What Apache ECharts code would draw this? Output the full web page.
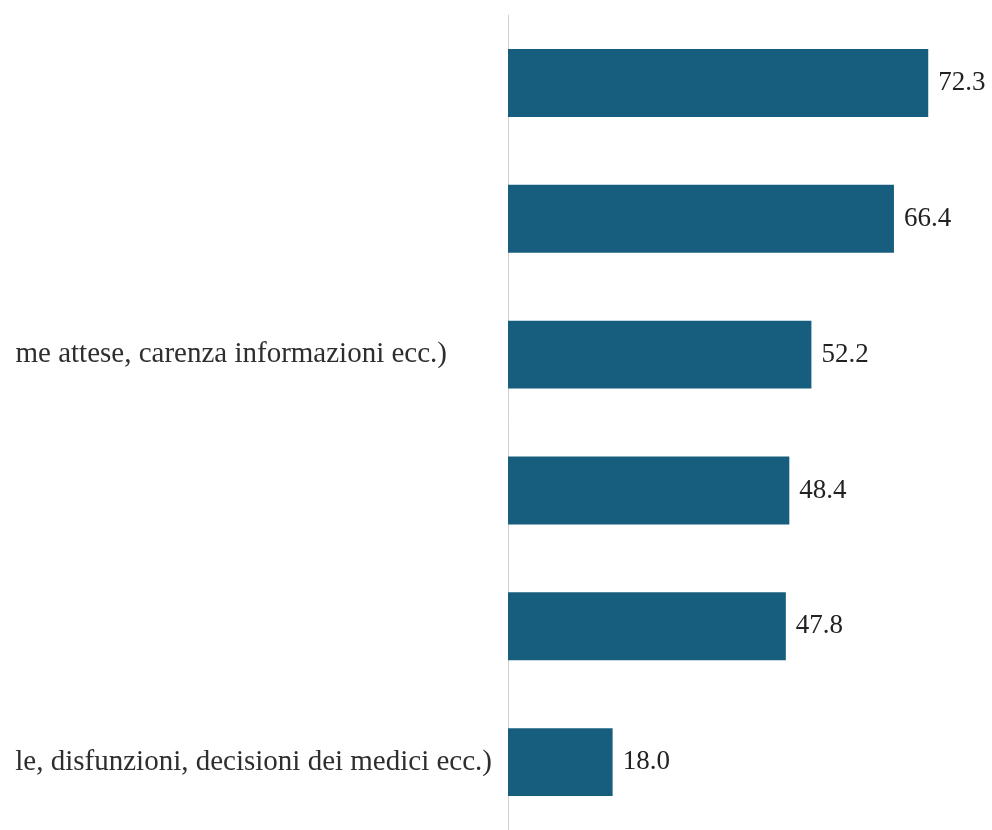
<!DOCTYPE html>
<html>
<head>
<meta charset="utf-8">
<script src="https://cdn.jsdelivr.net/npm/echarts@6/dist/echarts.min.js"></script>
<style>
  html, body { margin: 0; padding: 0; background: #fff; }
  #chart { width: 992px; height: 830px; }
</style>
</head>
<body>
<div id="chart"></div>
<script>
// Categories, top to bottom
const categories = [
  '',
  '',
  'me attese, carenza informazioni ecc.)',
  '',
  '',
  'le, disfunzioni, decisioni dei medici ecc.)'
];
// Percentages, same order
const values = [72.3, 66.4, 52.2, 48.4, 47.8, 18.0];

// Extra right padding per category label (px)
const labelPadRight = [0, 0, 45, 0, 0, 0];

const chart = echarts.init(document.getElementById('chart'), null, { renderer: 'canvas' });

chart.setOption({
  animation: false,
  backgroundColor: '#ffffff',
  grid: { left: 508, top: 15, width: 465, height: 822, containLabel: false },
  xAxis: {
    type: 'value',
    min: 0,
    max: 80,
    show: false
  },
  yAxis: {
    type: 'category',
    inverse: true,
    data: categories.map((c, i) => ({
      value: c,
      textStyle: { padding: [0, labelPadRight[i], 0, 0] }
    })),
    axisLine: { show: true, lineStyle: { color: '#d0d0d0', width: 1 } },
    axisTick: { show: false },
    axisLabel: {
      margin: 16,
      fontFamily: 'Liberation Serif',
      fontSize: 29,
      color: '#2e2e2e'
    }
  },
  series: [{
    type: 'bar',
    data: values,
    barWidth: '50%',
    itemStyle: { color: '#175e7e' },
    label: {
      show: true,
      position: 'right',
      distance: 10,
      formatter: p => p.value.toFixed(1),
      fontFamily: 'Liberation Serif',
      fontSize: 27,
      color: '#222222'
    }
  }]
});
</script>
</body>
</html>
